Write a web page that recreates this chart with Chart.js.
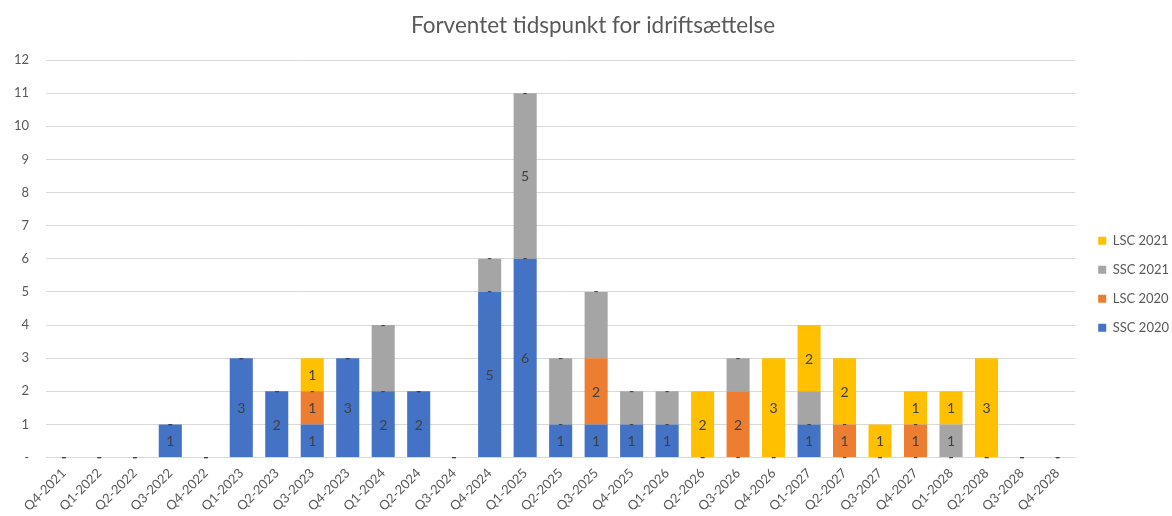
<!DOCTYPE html>
<html>
<head>
<meta charset="utf-8">
<script src="https://cdn.jsdelivr.net/npm/chart.js@4"></script>
<style>
  html, body { margin: 0; padding: 0; background: #fff; }
  #wrap { width: 1172px; height: 516px; }
</style>
</head>
<body>
<div id="wrap"><canvas id="bar-graph" width="1172" height="516"></canvas></div>
<script>
const categories = ["Q4-2021", "Q1-2022", "Q2-2022", "Q3-2022", "Q4-2022", "Q1-2023", "Q2-2023", "Q3-2023",
    "Q4-2023", "Q1-2024", "Q2-2024", "Q3-2024", "Q4-2024", "Q1-2025", "Q2-2025", "Q3-2025", "Q4-2025",
    "Q1-2026", "Q2-2026", "Q3-2026", "Q4-2026", "Q1-2027", "Q2-2027", "Q3-2027", "Q4-2027", "Q1-2028",
    "Q2-2028", "Q3-2028", "Q4-2028"];
const ssc2020 = [0, 0, 0, 1, 0, 3, 2, 1, 3, 2, 2, 0, 5, 6, 1, 1, 1, 1, 0, 0, 0, 1, 0, 0, 0, 0, 0, 0, 0];
const lsc2020 = [0, 0, 0, 0, 0, 0, 0, 1, 0, 0, 0, 0, 0, 0, 0, 2, 0, 0, 0, 2, 0, 0, 1, 0, 1, 0, 0, 0, 0];
const ssc2021 = [0, 0, 0, 0, 0, 0, 0, 0, 0, 2, 0, 0, 1, 5, 2, 2, 1, 1, 0, 1, 0, 1, 0, 0, 0, 1, 0, 0, 0];
const lsc2021 = [0, 0, 0, 0, 0, 0, 0, 1, 0, 0, 0, 0, 0, 0, 0, 0, 0, 0, 2, 0, 3, 2, 2, 1, 1, 1, 3, 0, 0];
// only these grey segments carry a value label in the original
const ssc2021Labelled = ["Q1-2025", "Q1-2028"];
const yTicks = [0, 1, 2, 3, 4, 5, 6, 7, 8, 9, 10, 11, 12];

const FONT = "Lato, 'Liberation Sans', sans-serif";

// draws the value inside each segment, "-" for zero values
const segmentLabels = {
    id: 'segmentLabels',
    afterDatasetsDraw(chart) {
        const ctx = chart.ctx;
        ctx.save();
        ctx.font = "14px " + FONT;
        ctx.fillStyle = "#404040";
        ctx.textAlign = "center";
        ctx.textBaseline = "middle";
        chart.data.datasets.forEach((ds, i) => {
            const meta = chart.getDatasetMeta(i);
            meta.data.forEach((bar, j) => {
                const v = ds.data[j];
                if (v === 0) {
                    ctx.fillText("-", bar.x, bar.y);
                    return;
                }
                if (ds.label === "SSC 2021" && !ssc2021Labelled.includes(categories[j])) return;
                ctx.fillText(String(v), bar.x, (bar.y + bar.base) / 2 + 1);
            });
        });
        ctx.restore();
    }
};

// nudge the legend away from the plot and the title a bit to the right
const boxNudge = {
    id: 'boxNudge',
    afterLayout(chart) {
        chart.legend.left += 7;
        chart.titleBlock.left += 17;
    }
};

let data = {
    labels: categories,
    datasets: [
        { label: "SSC 2020", data: ssc2020, backgroundColor: "#4472C4" },
        { label: "LSC 2020", data: lsc2020, backgroundColor: "#ED7D31" },
        { label: "SSC 2021", data: ssc2021, backgroundColor: "#A5A5A5" },
        { label: "LSC 2021", data: lsc2021, backgroundColor: "#FFC000" }
    ]
};

let options = {
    responsive: false,
    animation: false,
    layout: { padding: { left: -3, right: 0, top: 8, bottom: 2 } },
    datasets: {
        bar: { categoryPercentage: 1, barPercentage: 0.65, borderWidth: 0 }
    },
    plugins: {
        title: {
            display: true,
            text: "Forventet tidspunkt for idriftsættelse",
            color: "#595959",
            font: { family: FONT, size: 22.5, weight: "normal" },
            padding: { top: 4, bottom: 21 }
        },
        legend: {
            display: true,
            position: "right",
            reverse: true,
            title: { display: true, text: " ", font: { size: 12 }, padding: 16 },
            labels: {
                boxWidth: 8,
                boxHeight: 8,
                padding: 16,
                color: "#595959",
                font: { family: FONT, size: 13 }
            }
        },
        tooltip: { enabled: false }
    },
    scales: {
        x: {
            stacked: true,
            grid: { display: false },
            border: { display: false },
            ticks: {
                color: "#595959",
                font: { family: FONT, size: 13 },
                padding: 0,
                minRotation: 45,
                maxRotation: 45,
                autoSkip: false
            }
        },
        y: {
            stacked: true,
            min: 0,
            max: 12,
            afterBuildTicks: axis => { axis.ticks = yTicks.map(v => ({ value: v })); },
            grid: { color: "#D9D9D9", drawTicks: false },
            border: { display: false },
            ticks: {
                color: "#595959",
                font: { family: FONT, size: 13 },
                padding: 17,
                callback: v => v === 0 ? "-" : v
            }
        }
    }
};

new Chart(document.getElementById('bar-graph').getContext('2d'), {
    type: 'bar',
    data: data,
    options: options,
    plugins: [segmentLabels, boxNudge]
});
</script>
</body>
</html>
